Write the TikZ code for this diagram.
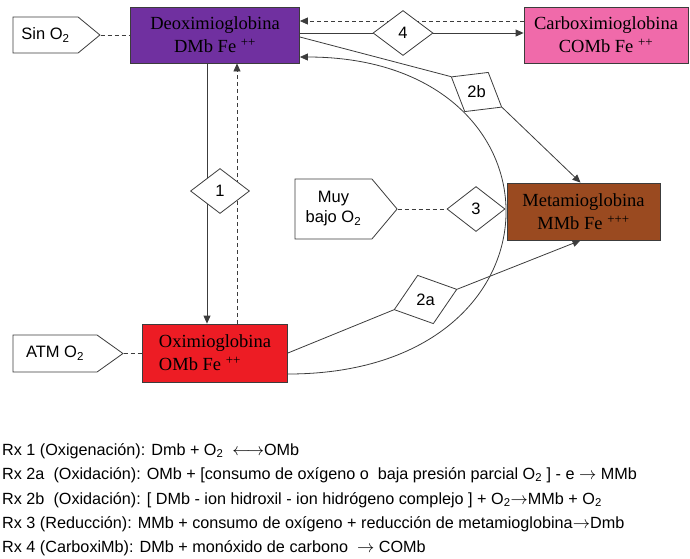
\documentclass[tikz,border=0pt]{standalone}
\usepackage{fontspec}
\setmainfont{Liberation Serif}
\setsansfont{Liberation Sans}
\usepackage{tikz}
\usetikzlibrary{shapes.geometric}
\usetikzlibrary{shapes.symbols}
\usetikzlibrary{arrows.meta}
\usetikzlibrary{backgrounds}

\definecolor{deoxicolor}{HTML}{7030A0}
\definecolor{carboxicolor}{HTML}{F06AAA}
\definecolor{metacolor}{HTML}{9A4A20}
\definecolor{oxicolor}{HTML}{ED1C24}
\definecolor{edgegray}{HTML}{3C3C3C}

\tikzset{
	statebox/.style={draw=edgegray, line width=0.8pt, align=center, inner sep=0pt, font=\fontsize{18.5}{23}\selectfont},
	rxbox/.style={diamond, draw=edgegray, fill=white, line width=0.8pt, inner sep=0pt, font=\sffamily\fontsize{16.5}{20}\selectfont},
	condbox/.style={signal, signal to=east, draw=edgegray, fill=white, line width=0.8pt, inner sep=0pt, align=center, font=\sffamily\fontsize{16.5}{20}\selectfont},
	link/.style={edgegray, line width=0.8pt},
	hint/.style={link, dash pattern=on 4pt off 3pt},
	rxline/.style={anchor=base west, inner sep=0pt, font=\sffamily\fontsize{16.2}{19}\selectfont},
}

\begin{document}
\begin{tikzpicture}[x=1pt, y=-1pt, >={Triangle[length=8pt,width=7pt]}]
	\useasboundingbox (0,0) rectangle (690,558);

	% myoglobin states
	\node[statebox, fill=deoxicolor, minimum width=169pt, minimum height=56pt] (deoxi) at (215,35) {Deoximioglobina\\DMb Fe \textsuperscript{++}};
	\node[statebox, fill=carboxicolor, minimum width=164pt, minimum height=56pt] (carboxi) at (606,35) {Carboximioglobina\\COMb Fe \textsuperscript{++}};
	\node[statebox, fill=metacolor, minimum width=153pt, minimum height=57pt] (metamio) at (583.5,211.5) {Metamioglobina\\MMb Fe \textsuperscript{+++}};
	\node[statebox, fill=oxicolor, align=left, minimum width=145pt, minimum height=58pt] (oxi) at (215,353) {Oximioglobina\\OMb Fe \textsuperscript{++}};

	% oxygen conditions
	\node[condbox, signal pointer angle=79, minimum width=87pt, minimum height=36pt] (sin) at (45.5,35) {Sin O\textsubscript{2}};
	\node[condbox, signal pointer angle=100, minimum width=102pt, minimum height=60pt] (muy) at (333.5,209) {Muy\\bajo O\textsubscript{2}};
	\node[condbox, signal pointer angle=71, minimum width=110pt, minimum height=37pt] (atm) at (55,353.5) {ATM O\textsubscript{2}};

	% reactions
	\node[rxbox, minimum width=59pt, minimum height=45pt] (d1) at (220,191) {1};
	\node[rxbox, minimum width=66pt, minimum height=51pt, rotate=18] (d2a) at (425.5,299.5) {\rotatebox{-18}{2a}};
	\node[rxbox, minimum width=59pt, minimum height=46pt, rotate=-31] (d2b) at (476.5,92) {\rotatebox{31}{2b}};
	\node[rxbox, minimum width=58pt, minimum height=45pt] (d3) at (476,209) {3};
	\node[rxbox, minimum width=60pt, minimum height=45pt] (d4) at (403,33) {4};

	\begin{scope}[on background layer]
		\draw[hint] (sin.east) -- (deoxi.west |- sin.east);
		\draw[hint] (atm.east) -- (oxi.west |- atm.east);
		\draw[hint] (muy.east) -- (d3.west);
		\draw[link] (deoxi.east |- d4) -- (d4.west);
		\draw[link, ->] (d4.east) -- (carboxi.west |- d4);
		\draw[hint, ->] ([yshift=14pt]carboxi.west) -- ([yshift=14pt]deoxi.east);
		\draw[link] ([yshift=-2pt]deoxi.east) -- (d2b.west);
		\draw[link, ->] (d2b.east) -- ([xshift=-3pt]metamio.north);
		\draw[link, ->] ([xshift=-8pt]deoxi.south) -- ([xshift=-8pt]oxi.north);
		\draw[hint, ->] ([xshift=22pt]oxi.north) -- ([xshift=22pt]deoxi.south);
		\draw[link] (oxi.east) -- (d2a.west);
		\draw[link, ->] (d2a.east) -- ([xshift=-3pt]metamio.south);
		\draw[link, ->] ([yshift=-21pt]oxi.east) .. controls +(288,0) and +(275,0) .. ([yshift=-22pt]deoxi.east);
	\end{scope}

	% list of reactions
	\node[rxline] (rx1) at (2,455) {Rx 1 (Oxigenación): Dmb + O\textsubscript{2} \ $\longleftrightarrow$OMb};
	\node[rxline] (rx2a) at (2,479) {Rx 2a \ (Oxidación): OMb + [consumo de oxígeno o \ baja presión parcial O\textsubscript{2} ] - e $\rightarrow$ MMb};
	\node[rxline] (rx2b) at (2,504) {Rx 2b \ (Oxidación): [ DMb - ion hidroxil - ion hidrógeno complejo ] + O\textsubscript{2}$\rightarrow$MMb + O\textsubscript{2}};
	\node[rxline] (rx3) at (2,528) {Rx 3 (Reducción): MMb + consumo de oxígeno + reducción de metamioglobina$\rightarrow$Dmb};
	\node[rxline] (rx4) at (2,552) {Rx 4 (CarboxiMb): DMb + monóxido de carbono \ $\rightarrow$ COMb};
\end{tikzpicture}
\end{document}
